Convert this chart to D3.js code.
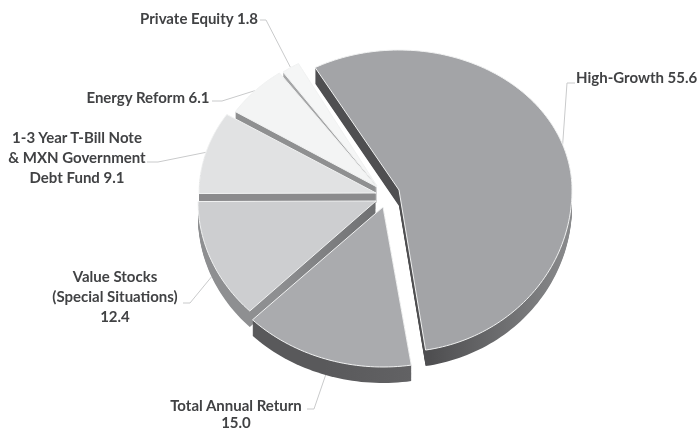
<!DOCTYPE html>
<html>
<head>
<meta charset="utf-8">
<script src="https://cdn.jsdelivr.net/npm/d3@7"></script>
<style>
  html, body { margin: 0; background: #fff; }
  svg { display: block; filter: blur(0.45px); }
  text { font-family: Lato, sans-serif; font-weight: 700; font-size: 15px; fill: #414244; }
</style>
</head>
<body>
<div id="visualization"></div>
<script>
const categories = ['High-Growth', 'Total Annual Return', 'Value Stocks (Special Situations)', '1-3 Year T-Bill Note & MXN Government Debt Fund', 'Energy Reform', 'Private Equity']
const values = [55.6, 15.0, 12.4, 9.1, 6.1, 1.8]
const labelLines = [
  ['High-Growth 55.6'],
  ['Total Annual Return', '15.0'],
  ['Value Stocks', '(Special Situations)', '12.4'],
  ['1-3 Year T-Bill Note', '& MXN Government', 'Debt Fund 9.1'],
  ['Energy Reform 6.1'],
  ['Private Equity 1.8']
]
const topColors = ['#a3a4a7', '#aaabae', '#cdced0', '#e1e2e3', '#f3f4f4', '#f5f6f6']
const wallLeft = ['#4f4f51', '#59595b', '#8e8f91', '#8b8b8d', '#8f9091', '#a5a6a7']
const wallRight = ['#8a8b8d', '#626264', '#6f7072', '#8b8b8d', '#8f9091', '#a5a6a7']

const width = 699
const height = 432
const depth = 16

// the original is a perspective pie, so every slice has its own apex and radii,
// and the near half of the ellipse is deeper than the far half
const apexes = [[399, 190], [383, 207], [376, 201], [376, 193], [377, 187], [377, 186]]
const radiusX = [173, 184, 178, 177, 168, 162]
const radiusUp = [140, 150, 150, 146, 140, 140]
const radiusDown = [162, 160, 156, 153, 150, 150]

// where each label sits: x, first baseline, line gap, anchor, and the elbow of its leader
const labelSpots = [
  { x: 576, y: 83, gap: 20, anchor: 'start', elbow: [[575, 83], [567, 83]] },
  { x: 236, y: 411, gap: 17, anchor: 'middle', elbow: [[307, 409], [314, 409]] },
  { x: 115, y: 282, gap: 20, anchor: 'middle', elbow: [[183, 303], [190, 303]] },
  { x: 77, y: 143, gap: 20, anchor: 'middle', elbow: [[147, 162], [158, 162]] },
  { x: 148, y: 103, gap: 20, anchor: 'middle', elbow: [[212, 101], [222, 101]] },
  { x: 199, y: 24, gap: 20, anchor: 'middle', elbow: [[260, 20], [266, 20]] }
]

const startAngle = -29 * Math.PI / 180
const pie = d3.pie().sort(null).startAngle(startAngle).endAngle(startAngle + 2 * Math.PI)

// point on a slice's rim, relative to its apex
function rim(i, angle) {
  const c = Math.cos(angle)
  return [Math.sin(angle) * radiusX[i], -c * (c > 0 ? radiusUp[i] : radiusDown[i])]
}

const sliceLine = d3.line()
function slicePath(d) {
  const steps = Math.ceil((d.endAngle - d.startAngle) * 40)
  const angles = d3.range(steps + 1).map(k => d.startAngle + (d.endAngle - d.startAngle) * k / steps)
  return sliceLine([[0, 0], ...angles.map(a => rim(d.i, a))]) + 'Z'
}

const slices = pie(values).map((d, i) => ({
  ...d,
  i,
  mid: (d.startAngle + d.endAngle) / 2,
  x: apexes[i][0],
  y: apexes[i][1]
}))

const svg = d3.select('#visualization').append('svg')
  .attr('width', width)
  .attr('height', height)

const defs = svg.append('defs')
slices.forEach(d => {
  const grad = defs.append('linearGradient').attr('id', `wall-${d.i}`)
  grad.append('stop').attr('offset', '0%').attr('stop-color', wallLeft[d.i])
  grad.append('stop').attr('offset', '45%').attr('stop-color', wallLeft[d.i])
  grad.append('stop').attr('offset', '100%').attr('stop-color', wallRight[d.i])
})

// leader lines go under the pie
const leader = d3.line()
svg.append('g').selectAll('path')
  .data(slices)
  .join('path')
  .attr('d', d => {
    const wall = Math.cos(d.mid) < 0 ? depth : 0
    const p = rim(d.i, d.mid)
    return leader([...labelSpots[d.i].elbow, [d.x + p[0], d.y + p[1] + wall]])
  })
  .attr('fill', 'none')
  .attr('stroke', '#c9cacb')
  .attr('stroke-width', 1)

// paint back to front so the gaps between slices show their side faces
const drawOrder = [5, 4, 3, 2, 1, 0]
const groups = svg.append('g').selectAll('g')
  .data(drawOrder.map(i => slices[i]))
  .join('g')
  .attr('transform', d => `translate(${d.x},${d.y})`)

groups.selectAll('path.wall')
  .data(d => d3.range(depth, 0, -1).map(k => ({ ...d, k })))
  .join('path')
  .attr('class', 'wall')
  .attr('d', slicePath)
  .attr('transform', d => `translate(0,${d.k})`)
  .attr('fill', d => `url(#wall-${d.i})`)

groups.append('path')
  .attr('class', 'top')
  .attr('d', slicePath)
  .attr('fill', d => topColors[d.i])
  .attr('stroke', '#f1f2f2')
  .attr('stroke-width', 1)

const labels = svg.append('g').selectAll('text')
  .data(slices)
  .join('text')
  .attr('x', d => labelSpots[d.i].x)
  .attr('y', d => labelSpots[d.i].y)
  .attr('text-anchor', d => labelSpots[d.i].anchor)

labels.selectAll('tspan')
  .data(d => labelLines[d.i].map(line => ({ line, x: labelSpots[d.i].x, gap: labelSpots[d.i].gap })))
  .join('tspan')
  .attr('x', d => d.x)
  .attr('dy', (d, i) => i ? d.gap : 0)
  .text(d => d.line)
</script>
</body>
</html>
